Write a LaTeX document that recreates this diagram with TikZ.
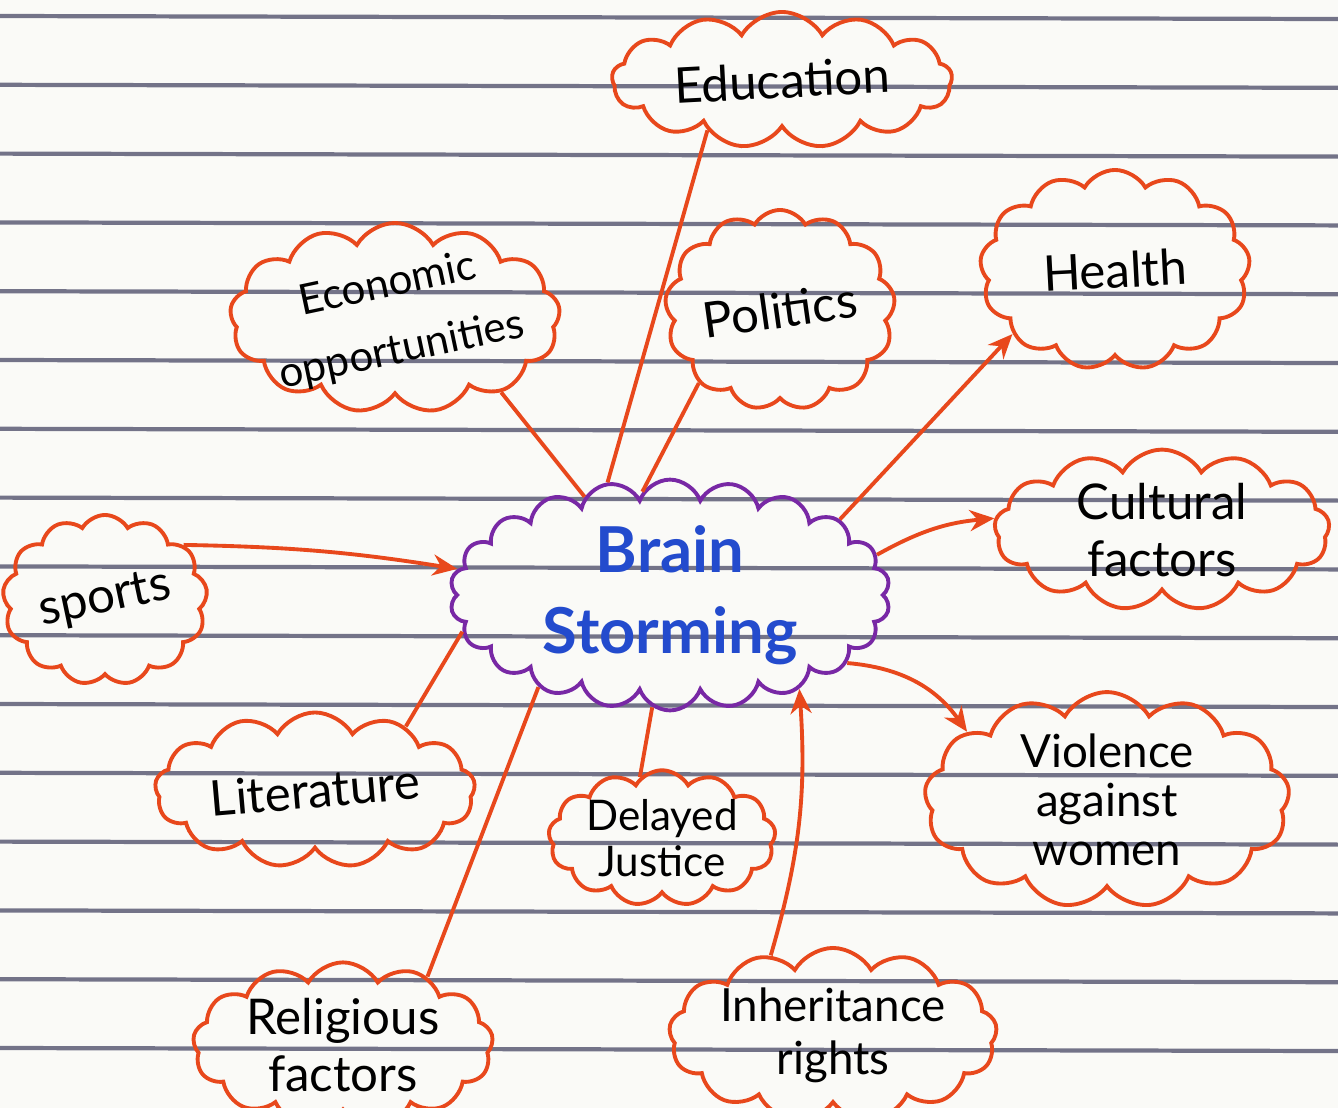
\documentclass[tikz,border=0pt]{standalone}
\usepackage{fontspec}
\setmainfont{Lato}
\usetikzlibrary{shapes.symbols,arrows.meta}

\definecolor{ideared}{RGB}{232,72,28}
\definecolor{brainpurple}{RGB}{120,40,165}
\definecolor{brainblue}{RGB}{35,75,205}
\definecolor{ruleline}{RGB}{70,70,100}
\definecolor{paper}{RGB}{250,250,247}

\tikzset{
idea/.style={cloud,cloud puffs=13,cloud puff arc=120,cloud ignores aspect,draw=ideared,line width=1.1pt,align=center,inner sep=0pt,font=\fontsize{14}{16}\selectfont},
link/.style={draw=ideared,line width=1.1pt},
tip/.style={link,-{Stealth[length=7pt,width=6pt]}}
}

\begin{document}
\begin{tikzpicture}[x=0.01cm,y=-0.01cm]
\fill[paper] (0,0) rectangle (1338,1108);
\useasboundingbox (0,0) rectangle (1338,1108);

% ruled paper
\foreach \k in {0,...,15}
  \draw[ruleline,line width=1.2pt,opacity=0.75] (0,16+68.8*\k) -- (1338,19+68.8*\k);

% centre
\node[idea,draw=brainpurple,cloud puffs=22,cloud puff arc=140,minimum width=4.4cm,minimum height=2.3cm,text=brainblue,font=\fontsize{18}{23}\selectfont\bfseries] (brain) at (670,595) {Brain\\Storming};

% ideas
\node[idea,minimum width=3.4cm,minimum height=1.36cm] (edu) at (782,80) {\rotatebox{3}{Education}};
\node[idea,minimum width=3.3cm,minimum height=1.9cm,label={[rotate=12,align=center,font=\fontsize{12}{19}\selectfont]center:Economic\\opportunities}] (econ) at (395,318) {};
\node[idea,minimum width=2.3cm,minimum height=2cm] (pol) at (780,310) {\rotatebox{8}{Politics}};
\node[idea,minimum width=2.7cm,minimum height=2cm] (health) at (1115,270) {\rotatebox{3}{Health}};
\node[idea,minimum width=3.35cm,minimum height=1.6cm] (cult) at (1162,530) {Cultural\\factors};
\node[idea,minimum width=1.9cm,minimum height=1.7cm] (sports) at (105,600) {\rotatebox{12}{sports}};
\node[idea,minimum width=3.2cm,minimum height=1.55cm] (lit) at (315,790) {\rotatebox{5}{Literature}};
\node[idea,minimum width=2.27cm,minimum height=1.35cm,font=\fontsize{12}{13}\selectfont] (delay) at (662,838) {Delayed\\Justice};
\node[idea,minimum width=3.65cm,minimum height=1.9cm,font=\fontsize{13}{14}\selectfont] (viol) at (1107,800) {Violence\\against\\women};
\node[idea,minimum width=3cm,minimum height=1.4cm] (relig) at (343,1045) {Religious\\factors};
\node[idea,minimum width=3cm,minimum height=1.25cm,font=\fontsize{13}{15}\selectfont] (inher) at (833,1035) {Inheritance\\rights};

% links
\draw[link] (brain.119) -- (edu.214);
\draw[link] (brain.131) -- (econ.-35);
\draw[link] (brain.105) -- (pol.222);
\draw[tip] (brain.24) -- (health.212);
\draw[tip] (brain.11) to[bend left=12] (cult.176);
\draw[tip] (sports.35) to[bend left=4] (brain.173);
\draw[link] (brain.190) -- (lit.35);
\draw[link] (brain.261) -- (delay.110);
\draw[tip] (brain.339) to[bend left=25] (viol.154);
\draw[link] (brain.215) -- (relig.39);
\draw[tip] (inher.128) to[bend right=10] (brain.324);

\end{tikzpicture}
\end{document}
